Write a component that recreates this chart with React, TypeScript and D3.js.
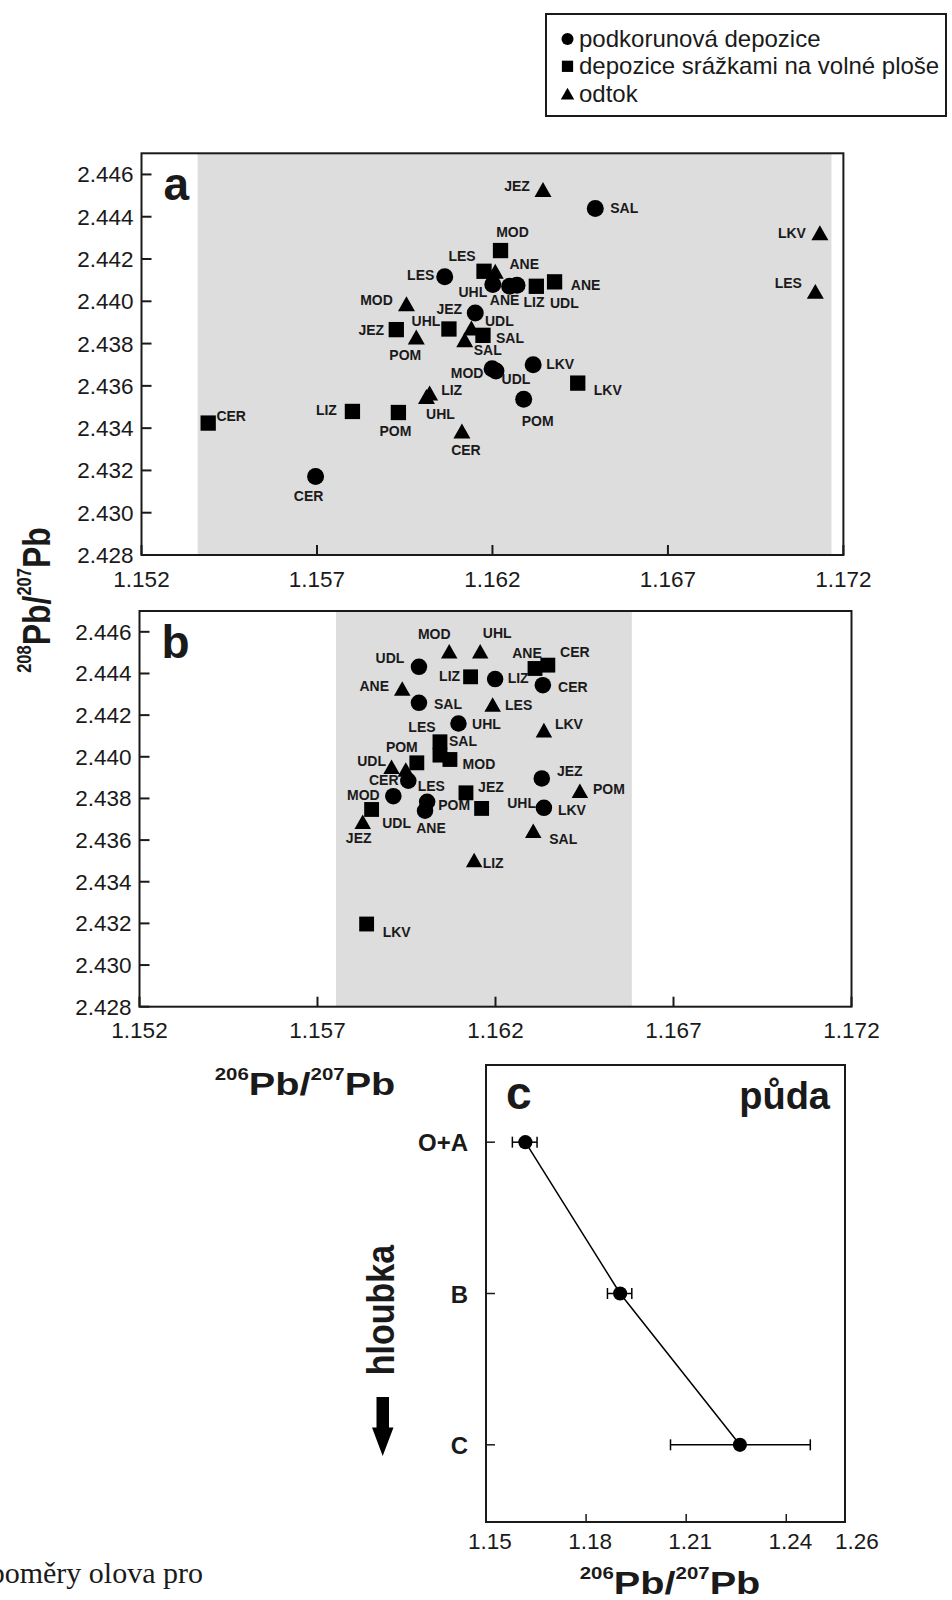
import React from 'react';
import * as d3 from 'd3';

const FONT = 'Liberation Sans, Arial, Helvetica, sans-serif';
const INK = '#1a1a1a';
const SHADE = '#dddddd';

// ---------- shared axis values for panels a, b ----------
const X_DOMAIN = [1.152, 1.172];
const Y_DOMAIN = [2.428, 2.447];
const X_TICKS = [1.152, 1.157, 1.162, 1.167, 1.172];
const Y_TICKS = [2.428, 2.43, 2.432, 2.434, 2.436, 2.438, 2.44, 2.442, 2.444, 2.446];

// ---------- panel a ----------
const A_SHADE_RANGE = [1.1536, 1.17166];
const A_CIRCLE = [
  { site: 'CER', x: 1.15696, y: 2.43171 },
  { site: 'LES', x: 1.16064, y: 2.44116 },
  { site: 'JEZ', x: 1.16151, y: 2.43945 },
  { site: 'UHL', x: 1.16201, y: 2.44079 },
  { site: 'ANE', x: 1.16249, y: 2.44071 },
  { site: 'LIZ', x: 1.1627, y: 2.44076 },
  { site: 'SAL', x: 1.16493, y: 2.44439 },
  { site: 'MOD', x: 1.16199, y: 2.43681 },
  { site: 'UDL', x: 1.1621, y: 2.4367 },
  { site: 'LKV', x: 1.16316, y: 2.437 },
  { site: 'POM', x: 1.16289, y: 2.43537 },
];
const A_CIRCLE_LABEL_OFFSET = [[-7, 24], [-24, 3], [-26, 1], [-20, 12], [-5, 19], [17, 22], [29, 5], [-25, 9], [20, 13], [27, 4], [14, 27]];
const A_SQUARE = [
  { site: 'CER', x: 1.1539, y: 2.43424 },
  { site: 'LIZ', x: 1.15801, y: 2.43479 },
  { site: 'POM', x: 1.15932, y: 2.43474 },
  { site: 'JEZ', x: 1.15926, y: 2.43866 },
  { site: 'UHL', x: 1.16076, y: 2.43869 },
  { site: 'SAL', x: 1.16173, y: 2.43839 },
  { site: 'LES', x: 1.16176, y: 2.44142 },
  { site: 'MOD', x: 1.16223, y: 2.4424 },
  { site: 'LKV', x: 1.16443, y: 2.43613 },
  { site: 'UDL', x: 1.16325, y: 2.44071 },
  { site: 'ANE', x: 1.16377, y: 2.44092 },
];
const A_SQUARE_LABEL_OFFSET = [[23, -2], [-26, 4], [-3, 23], [-25, 5], [-23, -3], [27, 8], [-22, -10], [12, -14], [30, 12], [28, 22], [31, 8]];
const A_TRIANGLE = [
  { site: 'JEZ', x: 1.16344, y: 2.44529 },
  { site: 'LKV', x: 1.17133, y: 2.44324 },
  { site: 'LES', x: 1.1712, y: 2.44047 },
  { site: 'MOD', x: 1.15955, y: 2.43988 },
  { site: 'POM', x: 1.15983, y: 2.43831 },
  { site: 'UDL', x: 1.1614, y: 2.43874 },
  { site: 'SAL', x: 1.16121, y: 2.43818 },
  { site: 'LIZ', x: 1.16021, y: 2.43566 },
  { site: 'UHL', x: 1.16012, y: 2.4355 },
  { site: 'CER', x: 1.16113, y: 2.43387 },
  { site: 'ANE', x: 1.16208, y: 2.44142 },
];
const A_TRIANGLE_LABEL_OFFSET = [[-26, 2], [-28, 5], [-27, -3], [-30, 1], [-11, 23], [28, -2], [23, 15], [22, 2], [14, 23], [4, 24], [29, -2]];

// ---------- panel b ----------
const B_SHADE_RANGE = [1.15752, 1.16583];
const B_CIRCLE = [
  { site: 'UDL', x: 1.15985, y: 2.44432 },
  { site: 'SAL', x: 1.15985, y: 2.44259 },
  { site: 'LIZ', x: 1.16199, y: 2.44373 },
  { site: 'CER', x: 1.16333, y: 2.44344 },
  { site: 'UHL', x: 1.16096, y: 2.4416 },
  { site: 'LES', x: 1.15955, y: 2.43885 },
  { site: 'MOD', x: 1.15913, y: 2.43811 },
  { site: 'POM', x: 1.16008, y: 2.43784 },
  { site: 'ANE', x: 1.16002, y: 2.43741 },
  { site: 'JEZ', x: 1.1633, y: 2.43896 },
  { site: 'LKV', x: 1.16336, y: 2.43755 },
];
const B_CIRCLE_LABEL_OFFSET = [[-29, -4], [29, 6], [23, 4], [30, 7], [28, 6], [23, 10], [-30, 4], [27, 8], [6, 22], [28, -2], [28, 7]];
const B_SQUARE = [
  { site: 'LIZ', x: 1.1613, y: 2.44384 },
  { site: 'ANE', x: 1.16311, y: 2.44424 },
  { site: 'CER', x: 1.16347, y: 2.4444 },
  { site: 'SAL', x: 1.16044, y: 2.44072 },
  { site: 'LES', x: 1.16044, y: 2.44008 },
  { site: 'MOD', x: 1.16072, y: 2.43987 },
  { site: 'POM', x: 1.15979, y: 2.43971 },
  { site: 'UDL', x: 1.15852, y: 2.43747 },
  { site: 'JEZ', x: 1.16117, y: 2.43827 },
  { site: 'UHL', x: 1.16161, y: 2.43752 },
  { site: 'LKV', x: 1.15838, y: 2.43197 },
];
const B_SQUARE_LABEL_OFFSET = [[-21, 4], [-8, -10], [27, -8], [23, 4], [-18, -23], [29, 10], [-15, -11], [25, 19], [25, -1], [40, 0], [30, 13]];
const B_TRIANGLE = [
  { site: 'MOD', x: 1.1607, y: 2.44507 },
  { site: 'UHL', x: 1.16157, y: 2.44507 },
  { site: 'ANE', x: 1.15938, y: 2.44328 },
  { site: 'UDL', x: 1.15908, y: 2.43952 },
  { site: 'CER', x: 1.15948, y: 2.43939 },
  { site: 'LES', x: 1.16192, y: 2.44251 },
  { site: 'LKV', x: 1.16336, y: 2.44128 },
  { site: 'JEZ', x: 1.15827, y: 2.43688 },
  { site: 'POM', x: 1.16437, y: 2.43837 },
  { site: 'SAL', x: 1.16306, y: 2.43645 },
  { site: 'LIZ', x: 1.1614, y: 2.43504 },
];
const B_TRIANGLE_LABEL_OFFSET = [[-15, -12], [17, -13], [-28, 3], [-20, -1], [-22, 16], [26, 5], [25, -1], [-4, 21], [29, 3], [30, 13], [19, 8]];

// ---------- panel c ----------
const C_X_DOMAIN = [1.15, 1.2576];
const C_X_TICK_LABELS = [1.15, 1.18, 1.21, 1.24, 1.26];
const C_X_TICK_MARKS = [1.18, 1.21, 1.24];
const C_DEPTH = ['O+A', 'B', 'C'];
const C_RATIO = [1.1618, 1.1902, 1.2261];
const C_ERR_LOW = [1.1579, 1.1864, 1.2053];
const C_ERR_HIGH = [1.1653, 1.1937, 1.2472];

// ---------- legend ----------
const LEGEND_ITEMS = [
  { shape: 'circle', text: 'podkorunová depozice' },
  { shape: 'square', text: 'depozice srážkami na volné ploše' },
  { shape: 'triangle', text: 'odtok' },
];

type Pt = { site: string; x: number; y: number };

function Marker({ shape, cx, cy, size }: { shape: string; cx: number; cy: number; size: number }) {
  if (shape === 'circle') return <circle cx={cx} cy={cy} r={size / 2} fill="#000" />;
  if (shape === 'square')
    return <rect x={cx - size * 0.45} y={cy - size * 0.45} width={size * 0.9} height={size * 0.9} fill="#000" />;
  const w = size, h = size * 0.88;
  return <path d={`M${cx},${cy - h / 2}L${cx + w / 2},${cy + h / 2}L${cx - w / 2},${cy + h / 2}Z`} fill="#000" />;
}

function PbTitle({ x, y, vertical, first }: { x: number; y: number; vertical?: boolean; first: string }) {
  const tr = vertical
    ? `translate(${x},${y}) scale(1.24,1) rotate(-90)`
    : `translate(${x},${y}) scale(1.24,1)`;
  return (
    <text transform={tr} textAnchor="middle" fontFamily={FONT} fontWeight="bold" fill={INK} fontSize={32}>
      <tspan fontSize={16.5} dy={-15}>{first}</tspan>
      <tspan dy={15}>Pb/</tspan>
      <tspan fontSize={16.5} dy={-15}>207</tspan>
      <tspan dy={15}>Pb</tspan>
    </text>
  );
}

function ScatterPanel({ box, shadeRange, series, letter, markerSize }: any) {
  const x = d3.scaleLinear().domain(X_DOMAIN).range([box.left, box.right]);
  const y = d3.scaleLinear().domain(Y_DOMAIN).range([box.bottom, box.top]);
  const fmt = d3.format('.3f');
  return (
    <g>
      <rect x={box.left} y={box.top} width={box.right - box.left} height={box.bottom - box.top} fill="#fff" />
      <rect x={x(shadeRange[0])} y={box.top} width={x(shadeRange[1]) - x(shadeRange[0])} height={box.bottom - box.top} fill={SHADE} />
      {Y_TICKS.map((t) => (
        <g key={'y' + t}>
          <line x1={box.left} x2={box.left + 10} y1={y(t)} y2={y(t)} stroke={INK} strokeWidth={2} />
          <text x={box.left - 8} y={y(t) + 8} textAnchor="end" fontFamily={FONT} fontSize={22.5} fill={INK}>{fmt(t)}</text>
        </g>
      ))}
      {X_TICKS.map((t) => (
        <g key={'x' + t}>
          <line x1={x(t)} x2={x(t)} y1={box.bottom} y2={box.bottom - 10} stroke={INK} strokeWidth={2} />
          <text x={x(t)} y={box.bottom + 31.5} textAnchor="middle" fontFamily={FONT} fontSize={22.5} fill={INK}>{fmt(t)}</text>
        </g>
      ))}
      {series.map((s: any) =>
        s.data.map((d: Pt, i: number) => (
          <Marker key={s.shape + i} shape={s.shape} cx={x(d.x)} cy={y(d.y)} size={markerSize} />
        ))
      )}
      {series.map((s: any) =>
        s.data.map((d: Pt, i: number) => (
          <text key={'l' + s.shape + i} x={x(d.x) + s.offsets[i][0]} y={y(d.y) + s.offsets[i][1]}
            textAnchor="middle" fontFamily={FONT} fontWeight="bold" fontSize={14} fill={INK}>{d.site}</text>
        ))
      )}
      <text x={box.left + 22} y={box.top + 47} fontFamily={FONT} fontWeight="bold" fontSize={46} fill={INK}>{letter}</text>
      <rect x={box.left} y={box.top} width={box.right - box.left} height={box.bottom - box.top} fill="none" stroke={INK} strokeWidth={2} />
    </g>
  );
}

function SoilPanel() {
  const box = { left: 486, right: 845, top: 1065, bottom: 1522 };
  const x = d3.scaleLinear().domain(C_X_DOMAIN).range([box.left, box.right]);
  const y = d3.scalePoint().domain(C_DEPTH).range([box.top, box.bottom]).padding(0.51);
  const pts = C_DEPTH.map((k, i) => [x(C_RATIO[i]), y(k) as number] as [number, number]);
  const line = d3.line()(pts) || '';
  return (
    <g>
      <rect x={box.left} y={box.top} width={box.right - box.left} height={box.bottom - box.top} fill="#fff" stroke={INK} strokeWidth={2} />
      {C_X_TICK_MARKS.map((t) => (
        <line key={'cx' + t} x1={x(t)} x2={x(t)} y1={box.bottom} y2={box.bottom - 8} stroke={INK} strokeWidth={1.5} />
      ))}
      {C_X_TICK_LABELS.map((t) => (
        <text key={'cl' + t} x={x(t) + 4} y={box.bottom + 27} textAnchor="middle" fontFamily={FONT} fontSize={22.5} fill={INK}>
          {d3.format('.2f')(t)}
        </text>
      ))}
      {C_DEPTH.map((k) => (
        <g key={'cy' + k}>
          <line x1={box.left} x2={box.left + 9} y1={y(k)!} y2={y(k)!} stroke={INK} strokeWidth={1.5} />
          <text x={box.left - 18} y={(y(k) as number) + 9} textAnchor="end" fontFamily={FONT} fontWeight="bold" fontSize={24} fill={INK}>{k}</text>
        </g>
      ))}
      <path d={line} fill="none" stroke="#000" strokeWidth={1.5} />
      {C_DEPTH.map((k, i) => {
        const cy = y(k) as number;
        const x0 = x(C_ERR_LOW[i]), x1 = x(C_ERR_HIGH[i]);
        return (
          <g key={'e' + k}>
            <line x1={x0} x2={x1} y1={cy} y2={cy} stroke="#000" strokeWidth={1.5} />
            <line x1={x0} x2={x0} y1={cy - 5.5} y2={cy + 5.5} stroke="#000" strokeWidth={1.5} />
            <line x1={x1} x2={x1} y1={cy - 5.5} y2={cy + 5.5} stroke="#000" strokeWidth={1.5} />
            <circle cx={x(C_RATIO[i])} cy={cy} r={7.1} fill="#000" />
          </g>
        );
      })}
      <text x={box.left + 20} y={box.top + 44} fontFamily={FONT} fontWeight="bold" fontSize={46} fill={INK}>c</text>
      <text x={box.right - 15} y={box.top + 44} textAnchor="end" fontFamily={FONT} fontWeight="bold" fontSize={38} fill={INK}>půda</text>
      <text transform={`translate(394,1310) scale(1.12,1) rotate(-90)`} textAnchor="middle" fontFamily={FONT} fontWeight="bold" fontSize={34} fill={INK}>hloubka</text>
      <path d="M376.5,1397 L389,1397 L389,1427.5 L393.5,1427.5 L382.7,1456 L372,1427.5 L376.5,1427.5 Z" fill="#000" />
      <PbTitle x={670} y={1594} first="206" />
    </g>
  );
}

function Legend() {
  const left = 546, top = 14, right = 946, bottom = 116;
  return (
    <g>
      <rect x={left} y={top} width={right - left} height={bottom - top} fill="#fff" stroke={INK} strokeWidth={2} />
      {LEGEND_ITEMS.map((it, i) => {
        const base = 47 + i * 27.3;
        return (
          <g key={it.text}>
            <Marker shape={it.shape} cx={567.5} cy={base - 8} size={it.shape === 'triangle' ? 13.5 : it.shape === 'square' ? 12.5 : 12} />
            <text x={579} y={base} fontFamily={FONT} fontSize={24} fill={INK}>{it.text}</text>
          </g>
        );
      })}
    </g>
  );
}

export default function App() {
  const boxA = { left: 141.5, right: 843.4, top: 153.3, bottom: 555 };
  const boxB = { left: 139.5, right: 851.5, top: 611, bottom: 1006.7 };
  const seriesA = [
    { shape: 'square', data: A_SQUARE, offsets: A_SQUARE_LABEL_OFFSET },
    { shape: 'triangle', data: A_TRIANGLE, offsets: A_TRIANGLE_LABEL_OFFSET },
    { shape: 'circle', data: A_CIRCLE, offsets: A_CIRCLE_LABEL_OFFSET },
  ];
  const seriesB = [
    { shape: 'square', data: B_SQUARE, offsets: B_SQUARE_LABEL_OFFSET },
    { shape: 'triangle', data: B_TRIANGLE, offsets: B_TRIANGLE_LABEL_OFFSET },
    { shape: 'circle', data: B_CIRCLE, offsets: B_CIRCLE_LABEL_OFFSET },
  ];
  return (
    <svg width={952} height={1600} style={{ position: 'absolute', left: 0, top: 0, background: '#fff' }}>
      <rect x={0} y={0} width={952} height={1600} fill="#fff" />
      <Legend />
      <ScatterPanel box={boxA} shadeRange={A_SHADE_RANGE} series={seriesA} letter="a" markerSize={17} />
      <ScatterPanel box={boxB} shadeRange={B_SHADE_RANGE} series={seriesB} letter="b" markerSize={16.5} />
      <PbTitle x={50} y={600} vertical first="208" />
      <PbTitle x={305} y={1095} first="206" />
      <SoilPanel />
      <text x={203} y={1583} textAnchor="end" fontFamily="Liberation Serif, Times New Roman, serif" fontSize={30} fill={INK}>poměry olova pro</text>
    </svg>
  );
}
